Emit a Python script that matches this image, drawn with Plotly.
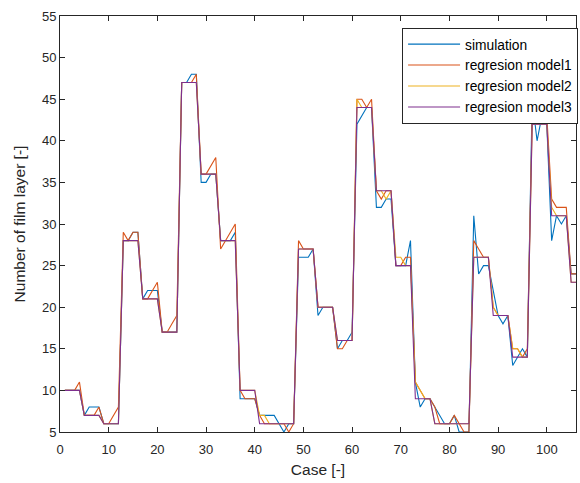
import plotly.graph_objects as go

cases = list(range(1, 107))

simulation = [10, 10, 10, 10, 7, 8, 8, 8, 6, 6, 6, 6,
              28, 28, 29, 29, 21, 22, 22, 22, 17, 17, 17, 17,
              47, 47, 48, 48, 35, 35, 36, 36, 28, 28, 28, 29,
              9, 9, 9, 9, 7, 7, 7, 7, 6, 5, 6, 6,
              26, 26, 26, 27, 19, 20, 20, 20, 15, 16, 16, 17,
              42, 43, 44, 44, 32, 32, 33, 33, 25, 25, 25, 28,
              11, 8, 9, 9, 8, 7, 6, 6, 7, 5, 5, 5,
              31, 24, 25, 25, 22, 19, 18, 19, 13, 14, 15, 14,
              45, 40, 43, 42, 28, 31, 30, 31, 24, 24]

model1 = [10, 10, 10, 11, 7, 7, 7, 8, 6, 6, 7, 8,
          29, 28, 29, 29, 21, 21, 22, 23, 17, 17, 18, 19,
          47, 47, 47, 48, 36, 36, 37, 38, 27, 28, 29, 30,
          10, 9, 9, 9, 7, 6, 6, 6, 6, 6, 5, 6,
          28, 27, 27, 27, 20, 20, 20, 20, 15, 15, 16, 16,
          45, 45, 44, 45, 34, 33, 34, 34, 25, 25, 26, 26,
          11, 10, 9, 9, 8, 6, 6, 6, 7, 6, 5, 5,
          28, 27, 26, 26, 20, 19, 19, 19, 15, 15, 14, 15,
          43, 43, 43, 43, 33, 32, 32, 32, 24, 24]

model2 = [10, 10, 10, 10, 7, 7, 7, 7, 6, 6, 6, 6,
          28, 28, 28, 28, 21, 21, 21, 21, 17, 17, 17, 17,
          47, 47, 47, 47, 36, 36, 36, 36, 28, 28, 28, 28,
          10, 10, 10, 10, 7, 7, 6, 6, 6, 6, 6, 6,
          27, 27, 27, 27, 20, 20, 20, 20, 16, 16, 16, 16,
          45, 44, 44, 44, 34, 34, 33, 34, 26, 26, 25, 25,
          11, 10, 9, 9, 6, 6, 6, 6, 6, 6, 6, 6,
          26, 26, 26, 26, 20, 19, 19, 19, 15, 15, 14, 14,
          42, 42, 42, 42, 32, 31, 31, 31, 23, 23]

model3 = [10, 10, 10, 10, 7, 7, 7, 7, 6, 6, 6, 6,
          28, 28, 28, 28, 21, 21, 21, 21, 17, 17, 17, 17,
          47, 47, 47, 47, 36, 36, 36, 36, 28, 28, 28, 28,
          10, 10, 10, 10, 6, 6, 6, 6, 6, 6, 6, 6,
          27, 27, 27, 27, 20, 20, 20, 20, 16, 16, 16, 16,
          44, 44, 44, 44, 34, 34, 34, 34, 25, 25, 25, 25,
          9, 9, 9, 9, 6, 6, 6, 6, 6, 6, 6, 6,
          26, 26, 26, 26, 19, 19, 19, 19, 14, 14, 14, 14,
          42, 42, 42, 42, 31, 31, 31, 31, 23, 23]

series_names = ["simulation", "regresion model1", "regresion model2", "regresion model3"]
series_values = [simulation, model1, model2, model3]
colors = ["#0072BD", "#D95319", "#EDB120", "#7E2F8E"]

x_ticks = list(range(0, 101, 10))
y_ticks = list(range(5, 56, 5))

FONT = "Liberation Sans, Arial, Helvetica, sans-serif"
AX = "#262626"

fig = go.Figure()
for name, vals, col in zip(series_names, series_values, colors):
    fig.add_trace(go.Scatter(x=cases, y=vals, mode="lines", name=name,
                             line=dict(color=col, width=1.1)))

axis_common = dict(showline=True, linecolor=AX, linewidth=1, mirror="ticks",
                   ticks="inside", ticklen=5, tickcolor=AX, tickwidth=1,
                   showgrid=False, zeroline=False,
                   tickfont=dict(family=FONT, size=13, color=AX))

fig.update_xaxes(range=[0, 106], tickvals=x_ticks, ticklabelstandoff=5,
                 title=dict(text="Case [-]", font=dict(family=FONT, size=15.5, color=AX), standoff=8),
                 **axis_common)
fig.update_yaxes(range=[5, 55], tickvals=y_ticks,
                 title=dict(text="Number of film layer [-]", font=dict(family=FONT, size=15.5, color=AX), standoff=12),
                 **axis_common)

fig.update_layout(
    width=580, height=483,
    margin=dict(l=60, r=2, t=16, b=51),
    paper_bgcolor="white", plot_bgcolor="white",
    showlegend=True,
    legend=dict(x=1.004, y=0.972, xanchor="right", yanchor="top",
                bgcolor="white", bordercolor=AX, borderwidth=1,
                font=dict(family=FONT, size=13.8, color="black"),
                itemwidth=52, tracegroupgap=0),
)

fig.write_html("out.html")
